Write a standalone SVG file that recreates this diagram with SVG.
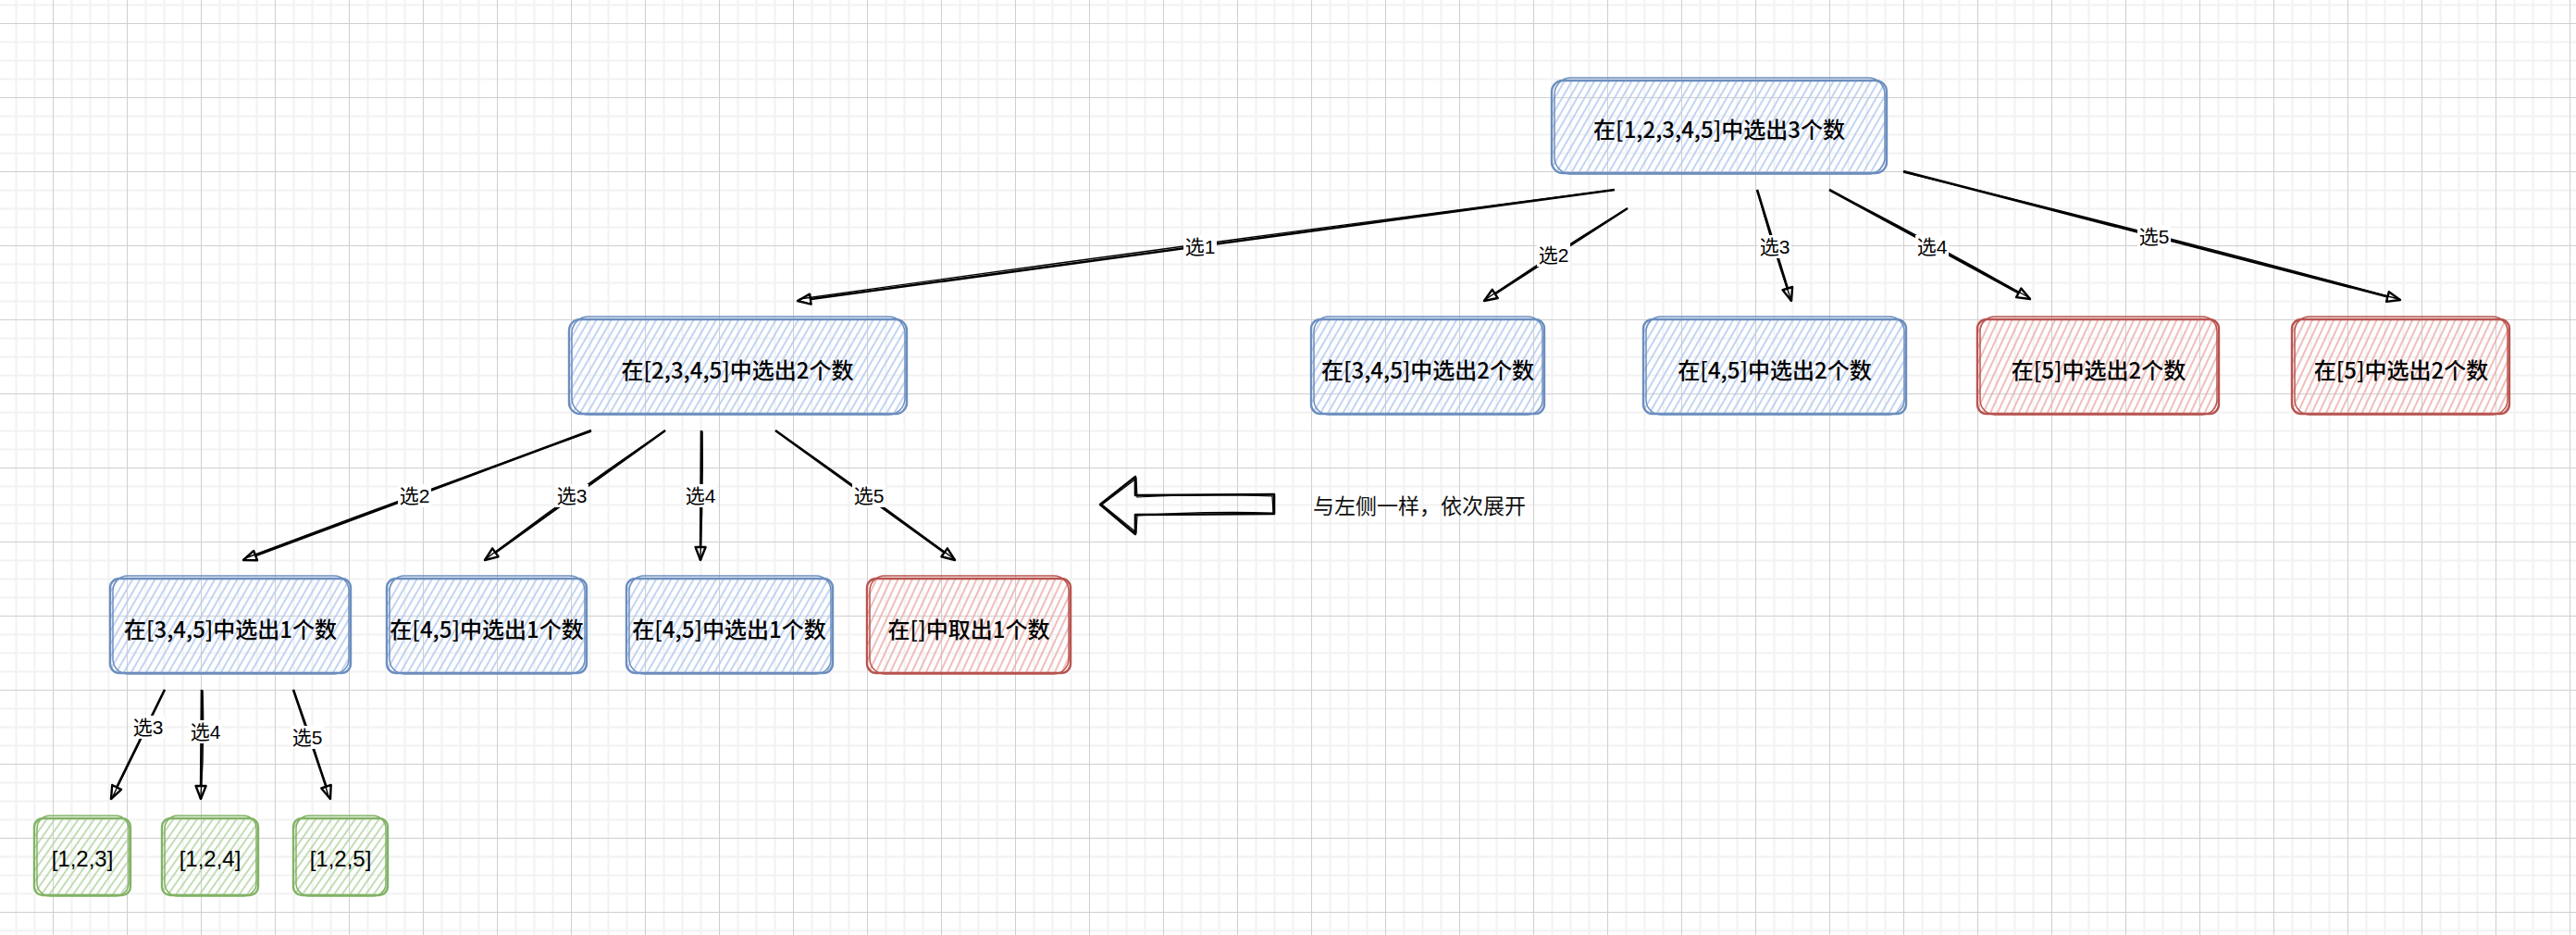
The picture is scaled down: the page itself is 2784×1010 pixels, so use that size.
<svg xmlns="http://www.w3.org/2000/svg" width="2784" height="1010" viewBox="0 0 2784 1010">
<defs>
<pattern id="gridp" patternUnits="userSpaceOnUse" x="57" y="25" width="80" height="80">
<path d="M20.5,0V80M40.5,0V80M60.5,0V80M0,20.5H80M0,40.5H80M0,60.5H80" stroke="#f2f2f2" stroke-width="2" fill="none"/>
<path d="M0.5,0V80M0,0.5H80" stroke="#cfcfcf" stroke-width="1" fill="none"/>
</pattern>
<pattern id="hb" patternUnits="userSpaceOnUse" width="7" height="7" patternTransform="rotate(30)">
<line x1="3" y1="0" x2="3" y2="7" stroke="#b3caf0" stroke-width="1.6"/>
</pattern>
<pattern id="hr" patternUnits="userSpaceOnUse" width="7" height="7" patternTransform="rotate(25)">
<line x1="3" y1="0" x2="3" y2="7" stroke="#ecaeaa" stroke-width="1.6"/>
</pattern>
<pattern id="hg" patternUnits="userSpaceOnUse" width="7" height="7" patternTransform="rotate(35)">
<line x1="3" y1="0" x2="3" y2="7" stroke="#b4d5a3" stroke-width="1.6"/>
</pattern>
<marker id="ah" viewBox="0 0 18 14" refX="16" refY="7" markerWidth="18" markerHeight="14" markerUnits="userSpaceOnUse" orient="auto">
<path d="M2,1.5 L16,7 L2,12.5 Z" fill="#fff" stroke="#000" stroke-width="2.4" stroke-linejoin="round"/>
</marker>
<style>
.bb{fill:url(#hb);stroke:#6c8ebf;stroke-width:2.4}
.bb2{fill:none;stroke:#6c8ebf;stroke-width:1.5}
.br{fill:url(#hr);stroke:#b85450;stroke-width:2.4}
.br2{fill:none;stroke:#b85450;stroke-width:1.5}
.bg{fill:url(#hg);stroke:#82b366;stroke-width:2.4}
.bg2{fill:none;stroke:#82b366;stroke-width:1.5}
.t{font-family:"Noto Sans CJK SC","Liberation Sans",sans-serif;font-size:24px;font-weight:500;fill:#000;text-anchor:middle;dominant-baseline:central}
.lf{font-family:"Liberation Sans","Noto Sans CJK SC",sans-serif;font-size:24px;fill:#000;text-anchor:middle;dominant-baseline:central}
.ln{stroke:#000;stroke-width:2.6;fill:none;marker-end:url(#ah)}
.ln2{stroke:#000;stroke-width:1.4;fill:none}
.lbg{fill:#fff}
.lb{font-family:"Liberation Sans","Noto Sans CJK SC",sans-serif;font-size:21px;fill:#000;text-anchor:middle;dominant-baseline:central}
.note{font-family:"Noto Sans CJK SC","Liberation Sans",sans-serif;font-size:23px;fill:#111;dominant-baseline:central}
</style>
</defs>
<rect x="0" y="0" width="2784" height="1010" fill="#fff"/>
<rect x="0" y="0" width="2784" height="1010" fill="url(#gridp)"/>

<g id="connectors">
<g id="c1"><path class="ln" d="M1745,205 L862,325"/><path class="ln2" d="M1745,205 Q1300,262 864,323"/><rect class="lbg" x="1279" y="254" width="36" height="25"/><text class="lb" x="1297" y="266">选1</text></g>
<g id="c2"><path class="ln" d="M1759,225 L1604,325"/><path class="ln2" d="M1759,225 Q1680,273 1606,323"/><rect class="lbg" x="1661" y="263" width="36" height="25"/><text class="lb" x="1679" y="275">选2</text></g>
<g id="c3"><path class="ln" d="M1899,205 L1936,325"/><path class="ln2" d="M1899,205 Q1916,268 1935,322"/><rect class="lbg" x="1900" y="254" width="36" height="25"/><text class="lb" x="1918" y="266">选3</text></g>
<g id="c4"><path class="ln" d="M1977,205 L2194,323"/><path class="ln2" d="M1977,205 Q2088,262 2192,321"/><rect class="lbg" x="2070" y="254" width="36" height="25"/><text class="lb" x="2088" y="266">选4</text></g>
<g id="c5"><path class="ln" d="M2057,185 L2594,324"/><path class="ln2" d="M2057,186 Q2330,252 2592,323"/><rect class="lbg" x="2310" y="243" width="36" height="25"/><text class="lb" x="2328" y="255">选5</text></g>

<g id="d2"><path class="ln" d="M639,465 L263,605"/><path class="ln2" d="M639,466 Q450,533 265,603"/><rect class="lbg" x="430" y="523" width="36" height="25"/><text class="lb" x="448" y="535">选2</text></g>
<g id="d3"><path class="ln" d="M719,465 L524,605"/><path class="ln2" d="M719,465 Q620,532 526,603"/><rect class="lbg" x="600" y="523" width="36" height="25"/><text class="lb" x="618" y="535">选3</text></g>
<g id="d4"><path class="ln" d="M758,465 L757,605"/><path class="ln2" d="M759,466 Q760,535 757,602"/><rect class="lbg" x="739" y="523" width="36" height="25"/><text class="lb" x="757" y="535">选4</text></g>
<g id="d5"><path class="ln" d="M838,465 L1032,605"/><path class="ln2" d="M838,465 Q936,533 1030,603"/><rect class="lbg" x="921" y="523" width="36" height="25"/><text class="lb" x="939" y="535">选5</text></g>

<g id="e3"><path class="ln" d="M178,745 L120,863"/><path class="ln2" d="M178,745 Q152,800 122,860"/><rect class="lbg" x="142" y="773" width="36" height="25"/><text class="lb" x="160" y="785">选3</text></g>
<g id="e4"><path class="ln" d="M218,745 L217,863"/><path class="ln2" d="M219,746 Q221,805 217,860"/><rect class="lbg" x="204" y="778" width="36" height="25"/><text class="lb" x="222" y="790">选4</text></g>
<g id="e5"><path class="ln" d="M317,745 L357,863"/><path class="ln2" d="M317,745 Q338,800 355,860"/><rect class="lbg" x="314" y="784" width="36" height="25"/><text class="lb" x="332" y="796">选5</text></g>
</g>

<g id="n-root"><rect class="bb" x="1677" y="87" width="362" height="100" rx="12"/><rect class="bb2" x="1680" y="84" width="357" height="104" rx="18"/><text class="t" x="1858" y="138">在[1,2,3,4,5]中选出3个数</text></g>

<g id="n-2345"><rect class="bb" x="615" y="345" width="365" height="102" rx="12"/><rect class="bb2" x="618" y="342" width="360" height="106" rx="18"/><text class="t" x="797" y="398">在[2,3,4,5]中选出2个数</text></g>
<g id="n-345-2"><rect class="bb" x="1417" y="345" width="252" height="102" rx="10"/><rect class="bb2" x="1420" y="342" width="247" height="106" rx="16"/><text class="t" x="1543" y="398">在[3,4,5]中选出2个数</text></g>
<g id="n-45-2"><rect class="bb" x="1776" y="345" width="284" height="102" rx="10"/><rect class="bb2" x="1779" y="342" width="279" height="106" rx="16"/><text class="t" x="1918" y="398">在[4,5]中选出2个数</text></g>
<g id="n-5a"><rect class="br" x="2137" y="345" width="261" height="102" rx="10"/><rect class="br2" x="2140" y="342" width="256" height="106" rx="16"/><text class="t" x="2268" y="398">在[5]中选出2个数</text></g>
<g id="n-5b"><rect class="br" x="2477" y="345" width="235" height="102" rx="10"/><rect class="br2" x="2480" y="342" width="230" height="106" rx="16"/><text class="t" x="2595" y="398">在[5]中选出2个数</text></g>

<g id="n-345-1"><rect class="bb" x="119" y="625" width="260" height="102" rx="10"/><rect class="bb2" x="122" y="622" width="255" height="106" rx="16"/><text class="t" x="249" y="678">在[3,4,5]中选出1个数</text></g>
<g id="n-45-1a"><rect class="bb" x="418" y="625" width="216" height="102" rx="10"/><rect class="bb2" x="421" y="622" width="211" height="106" rx="16"/><text class="t" x="526" y="678">在[4,5]中选出1个数</text></g>
<g id="n-45-1b"><rect class="bb" x="677" y="625" width="223" height="102" rx="10"/><rect class="bb2" x="680" y="622" width="218" height="106" rx="16"/><text class="t" x="788" y="678">在[4,5]中选出1个数</text></g>
<g id="n-empty"><rect class="br" x="937" y="625" width="220" height="102" rx="10"/><rect class="br2" x="940" y="622" width="215" height="106" rx="16"/><text class="t" x="1047" y="678">在[]中取出1个数</text></g>

<g id="n-123"><rect class="bg" x="37" y="884" width="104" height="83" rx="9"/><rect class="bg2" x="40" y="881" width="99" height="87" rx="14"/><text class="lf" x="89" y="927">[1,2,3]</text></g>
<g id="n-124"><rect class="bg" x="175" y="884" width="104" height="83" rx="9"/><rect class="bg2" x="178" y="881" width="99" height="87" rx="14"/><text class="lf" x="227" y="927">[1,2,4]</text></g>
<g id="n-125"><rect class="bg" x="317" y="884" width="102" height="83" rx="9"/><rect class="bg2" x="320" y="881" width="97" height="87" rx="14"/><text class="lf" x="368" y="927">[1,2,5]</text></g>

<g id="big-arrow">
<path d="M1189,545 L1227,515 L1227,535 L1377,534 L1377,555 L1227,556 L1227,577 Z" fill="none" stroke="#000" stroke-width="2.6" stroke-linejoin="round"/>
<path d="M1191,545 L1228,517 L1229,537 Q1300,533 1375,536 L1376,554 Q1300,552 1229,557 L1228,575 Z" fill="none" stroke="#000" stroke-width="1.2"/>
</g>
<g id="note"><text class="note" x="1419" y="545">与左侧一样，依次展开</text></g>
</svg>
